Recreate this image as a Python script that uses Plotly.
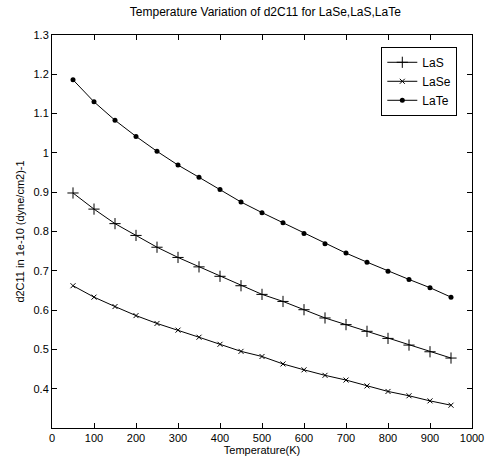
import plotly.graph_objects as go

temps = [50, 100, 150, 200, 250, 300, 350, 400, 450, 500, 550, 600, 650, 700, 750, 800, 850, 900, 950]
las = [0.898, 0.857, 0.820, 0.790, 0.760, 0.734, 0.710, 0.686, 0.662, 0.640, 0.622, 0.601, 0.580, 0.563, 0.546, 0.528, 0.511, 0.494, 0.478]
lase = [0.662, 0.633, 0.609, 0.586, 0.566, 0.549, 0.531, 0.513, 0.495, 0.482, 0.463, 0.448, 0.434, 0.422, 0.407, 0.393, 0.382, 0.369, 0.358]
late = [1.186, 1.130, 1.083, 1.042, 1.004, 0.969, 0.938, 0.907, 0.875, 0.848, 0.822, 0.795, 0.769, 0.745, 0.722, 0.699, 0.678, 0.657, 0.633]
x_ticks = [0, 100, 200, 300, 400, 500, 600, 700, 800, 900, 1000]
y_ticks = [0.4, 0.5, 0.6, 0.7, 0.8, 0.9, 1.0, 1.1, 1.2, 1.3]

font = "Liberation Sans, Arial, sans-serif"

fig = go.Figure()
fig.add_trace(go.Scatter(x=temps, y=las, name="LaS", mode="lines+markers",
                         line=dict(color="black", width=1),
                         marker=dict(symbol="cross-thin-open", size=8, line=dict(color="black", width=1))))
fig.add_trace(go.Scatter(x=temps, y=lase, name="LaSe", mode="lines+markers",
                         line=dict(color="black", width=1),
                         marker=dict(symbol="x-thin-open", size=5, line=dict(color="black", width=1))))
fig.add_trace(go.Scatter(x=temps, y=late, name="LaTe", mode="lines+markers",
                         line=dict(color="black", width=1),
                         marker=dict(symbol="circle", size=5, color="black")))

axis_common = dict(showgrid=False, zeroline=False, showline=True, linecolor="black", linewidth=1,
                   mirror="ticks", ticks="inside", ticklen=5, tickcolor="black",
                   tickfont=dict(family=font, size=11, color="black"))

fig.update_layout(
    width=496, height=466,
    margin=dict(l=52, r=15, t=35, b=38),
    paper_bgcolor="white", plot_bgcolor="white",
    title=dict(text="Temperature Variation of d2C11 for LaSe,LaS,LaTe", x=0.535, xanchor="center",
               y=0.975, yanchor="middle", font=dict(family=font, size=12, color="black")),
    xaxis=dict(range=[0, 1000], tickvals=x_ticks, ticktext=[str(v) for v in x_ticks],
               title=dict(text="Temperature(K)", font=dict(family=font, size=11, color="black"), standoff=2),
               **axis_common),
    yaxis=dict(range=[0.3, 1.3], tickvals=y_ticks, ticktext=[("%g" % v) for v in y_ticks],
               title=dict(text="d2C11 in 1e-10 (dyne/cm2)-1", font=dict(family=font, size=11, color="black"), standoff=6),
               **axis_common),
    legend=dict(x=0.965, y=0.97, xanchor="right", yanchor="top", bordercolor="black", borderwidth=1,
                bgcolor="white", font=dict(family=font, size=12, color="black"), tracegroupgap=0),
    showlegend=True,
)

fig.write_html("out.html")
